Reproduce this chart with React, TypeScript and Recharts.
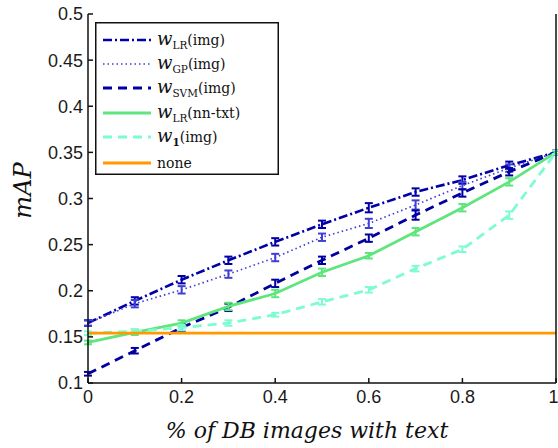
import React from "react";
import { ErrorBar, Line, LineChart, XAxis, YAxis } from "recharts";

// fraction of DB images with text
const xValues = [0, 0.1, 0.2, 0.3, 0.4, 0.5, 0.6, 0.7, 0.8, 0.9, 1];

const wLrImg = [0.165, 0.189, 0.212, 0.233, 0.253, 0.272, 0.29, 0.307, 0.32, 0.336, 0.35];
const wGpImg = [0.165, 0.186, 0.201, 0.218, 0.236, 0.258, 0.273, 0.293, 0.314, 0.333, 0.35];
const wSvmImg = [0.11, 0.135, 0.16, 0.182, 0.208, 0.233, 0.257, 0.282, 0.306, 0.329, 0.35];
const wLrTxt = [0.144, 0.155, 0.165, 0.183, 0.197, 0.22, 0.238, 0.264, 0.29, 0.318, 0.35];
const w1Img = [0.154, 0.156, 0.16, 0.165, 0.174, 0.188, 0.201, 0.224, 0.245, 0.282, 0.35];
const noneVals = [0.154, 0.154, 0.154, 0.154, 0.154, 0.154, 0.154, 0.154, 0.154, 0.154, 0.154];

// half-width of error bars
const errLrImg = [0.003, 0.004, 0.004, 0.004, 0.004, 0.004, 0.005, 0.004, 0.004, 0.004, 0.002];
const errGpImg = [0.003, 0.004, 0.004, 0.004, 0.004, 0.004, 0.005, 0.005, 0.004, 0.004, 0.002];
const errSvmImg = [0.002, 0.003, 0.004, 0.004, 0.004, 0.004, 0.004, 0.005, 0.004, 0.004, 0.002];
const errLrTxt = [0.002, 0.003, 0.003, 0.004, 0.004, 0.004, 0.003, 0.004, 0.004, 0.004, 0.002];
const errW1Img = [0.002, 0.002, 0.003, 0.003, 0.002, 0.003, 0.003, 0.003, 0.003, 0.004, 0.002];

const xTicks = [0, 0.2, 0.4, 0.6, 0.8, 1];
const yTicks = [0.1, 0.15, 0.2, 0.25, 0.3, 0.35, 0.4, 0.45, 0.5];

interface Series {
  key: string;
  err?: string;
  sym: string;
  sub: string;
  bold?: boolean;
  suffix: string;
  color: string;
  dash?: string;
  width: number;
}

const series: Series[] = [
  { key: "lrImg", err: "eLrImg", sym: "w", sub: "LR", suffix: "(img)", color: "#0000a8", dash: "9 3 2 3", width: 2.6 },
  { key: "gpImg", err: "eGpImg", sym: "w", sub: "GP", suffix: "(img)", color: "#3f3fd6", dash: "1.5 3", width: 1.7 },
  { key: "svmImg", err: "eSvmImg", sym: "w", sub: "SVM", suffix: "(img)", color: "#0000a0", dash: "9 6", width: 2.8 },
  { key: "lrTxt", err: "eLrTxt", sym: "w", sub: "LR", suffix: "(nn-txt)", color: "#5ee57c", width: 2.8 },
  { key: "w1Img", err: "eW1Img", sym: "w", sub: "1", bold: true, suffix: "(img)", color: "#7dfcd2", dash: "9 6", width: 2.8 },
  { key: "none", sym: "", sub: "", suffix: "none", color: "#ff9900", width: 2.8 },
];

const data = xValues.map((x, i) => ({
  x,
  lrImg: wLrImg[i],
  gpImg: wGpImg[i],
  svmImg: wSvmImg[i],
  lrTxt: wLrTxt[i],
  w1Img: w1Img[i],
  none: noneVals[i],
  eLrImg: errLrImg[i],
  eGpImg: errGpImg[i],
  eSvmImg: errSvmImg[i],
  eLrTxt: errLrTxt[i],
  eW1Img: errW1Img[i],
}));

const serif = "'DejaVu Serif', serif";
const sans = "'Liberation Sans', Arial, sans-serif";
const tickStyle = { fill: "#1a1a1a", fontSize: 18, fontFamily: sans };

function LegendBox() {
  const rowY = [18, 42, 66, 91, 115, 141];
  return (
    <svg width={184} height={153} style={{ display: "block", position: "absolute", left: 95, top: 22 }}>
      <rect x={0.75} y={0.75} width={182.5} height={151.5} fill="#fff" stroke="#111" strokeWidth={1.5} />
      {series.map((s, i) => (
        <g key={s.key}>
          <line
            x1={8}
            x2={56}
            y1={rowY[i]}
            y2={rowY[i]}
            stroke={s.color}
            strokeWidth={s.width}
            strokeDasharray={s.dash}
          />
          <text x={62} y={rowY[i] + 5} style={{ fontFamily: serif, fontSize: 14 }} fill="#111">
            {s.sym ? (
              <>
                <tspan style={{ fontStyle: "italic", fontSize: 18 }}>{s.sym}</tspan>
                <tspan style={{ fontSize: 10.5, fontWeight: s.bold ? "bold" : "normal" }} dy={4}>{s.sub}</tspan>
                <tspan dy={-4}>{s.suffix}</tspan>
              </>
            ) : (
              <tspan>{s.suffix}</tspan>
            )}
          </text>
        </g>
      ))}
    </svg>
  );
}

export default function App() {
  return (
    <div style={{ position: "absolute", left: 0, top: 0, width: 558, height: 448, background: "#fff" }}>
      <LineChart width={558} height={448} data={data} margin={{ top: 14, right: 0, bottom: 0, left: 0 }}>
        <XAxis
          xAxisId="bottom"
          type="number"
          dataKey="x"
          domain={[0, 1]}
          ticks={xTicks}
          tick={tickStyle}
          tickSize={-5}
          tickMargin={12}
          height={65}
          stroke="#111"
          strokeWidth={1.5}
          label={{
            value: "% of DB images with text",
            position: "insideBottom",
            offset: 10,
            dx: -15,
            fill: "#111",
            style: { fontSize: 22, fontStyle: "italic", fontFamily: serif },
          }}
        />
        <XAxis
          xAxisId="top"
          orientation="top"
          type="number"
          dataKey="x"
          domain={[0, 1]}
          ticks={xTicks}
          tickFormatter={() => ""}
          tickSize={-5}
          height={0}
          stroke="#111"
          strokeWidth={1.5}
        />
        <YAxis
          yAxisId="left"
          type="number"
          domain={[0.1, 0.5]}
          ticks={yTicks}
          tick={tickStyle}
          tickSize={-5}
          tickMargin={10}
          width={88}
          stroke="#111"
          strokeWidth={1.5}
          label={{
            value: "mAP",
            angle: -90,
            position: "insideLeft",
            offset: 22,
            dy: -8,
            fill: "#111",
            style: { textAnchor: "middle", fontSize: 24, fontStyle: "italic", fontFamily: serif },
          }}
        />
        <YAxis
          yAxisId="right"
          orientation="right"
          type="number"
          domain={[0.1, 0.5]}
          ticks={yTicks}
          tickFormatter={() => ""}
          tickSize={-5}
          width={2}
          stroke="#111"
          strokeWidth={1.5}
        />
        {series.map((s) => (
          <Line
            key={s.key}
            xAxisId="bottom"
            yAxisId="left"
            type="linear"
            dataKey={s.key}
            stroke={s.color}
            strokeWidth={s.width}
            strokeDasharray={s.dash}
            dot={false}
            activeDot={false}
            isAnimationActive={false}
          >
            {s.err && (
              <ErrorBar dataKey={s.err} direction="y" width={4} stroke={s.color} strokeWidth={2} isAnimationActive={false} />
            )}
          </Line>
        ))}
      </LineChart>
      <LegendBox />
    </div>
  );
}
